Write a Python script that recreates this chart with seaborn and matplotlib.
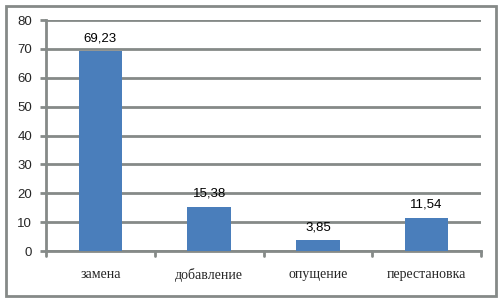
import matplotlib
matplotlib.use("Agg")
import matplotlib.pyplot as plt
import seaborn as sns
import pandas as pd
from matplotlib.patches import Rectangle

categories = ["замена", "добавление", "опущение", "перестановка"]
values = [69.23, 15.38, 3.85, 11.54]
value_labels = ["69,23", "15,38", "3,85", "11,54"]
yticks = [0, 10, 20, 30, 40, 50, 60, 70, 80]

df = pd.DataFrame({"cat": categories, "val": values})

sns.set_style("white")
plt.rcParams["font.family"] = ["Liberation Sans", "DejaVu Sans"]

fig = plt.figure(figsize=(5, 3), dpi=100)
fig.patch.set_facecolor("white")
ax = fig.add_axes([0.092, 0.163, 0.87, 0.77])

grid_c = "#858a88"
for t in yticks:
    ax.axhline(t, color=grid_c, lw=2, zorder=0)

sns.barplot(data=df, x="cat", y="val", color="#4a7ebb", saturation=1,
            width=0.4, ax=ax, zorder=3, linewidth=0, edgecolor="none")
for p, lab in zip(ax.patches, value_labels):
    ax.annotate(lab, (p.get_x() + p.get_width() / 2, p.get_height()),
                xytext=(0, 5), textcoords="offset points",
                ha="center", va="bottom", fontsize=9.5, color="black")

ax.set_ylim(0, 80)
ax.set_xlim(-0.5, 3.5)
ax.set_yticks(yticks)
ax.set_yticklabels([str(t) for t in yticks], fontsize=9.5)
ax.set_xticks(range(len(categories)))
ax.set_xticklabels(categories, fontsize=10, family=["Liberation Serif", "DejaVu Serif"])
ax.set_xlabel("")
ax.set_ylabel("")
ax.tick_params(axis="x", length=0, pad=12)
ax.tick_params(axis="y", length=4, width=2, color=grid_c, pad=6, left=True)
# category boundary ticks
for b in [-0.5, 0.5, 1.5, 2.5, 3.5]:
    ax.plot([b, b], [0, -1.6], color=grid_c, lw=2, clip_on=False, zorder=4)

for s in ["top", "right"]:
    ax.spines[s].set_visible(False)
ax.spines["left"].set_color(grid_c)
ax.spines["left"].set_linewidth(2)
ax.spines["bottom"].set_color(grid_c)
ax.spines["bottom"].set_linewidth(2)

fig.patches.append(Rectangle((6 / 500, 4 / 300), 490 / 500, 290 / 300,
                             transform=fig.transFigure, fill=False,
                             edgecolor=grid_c, lw=2))

fig.savefig("out.png", dpi=100, facecolor="white")
